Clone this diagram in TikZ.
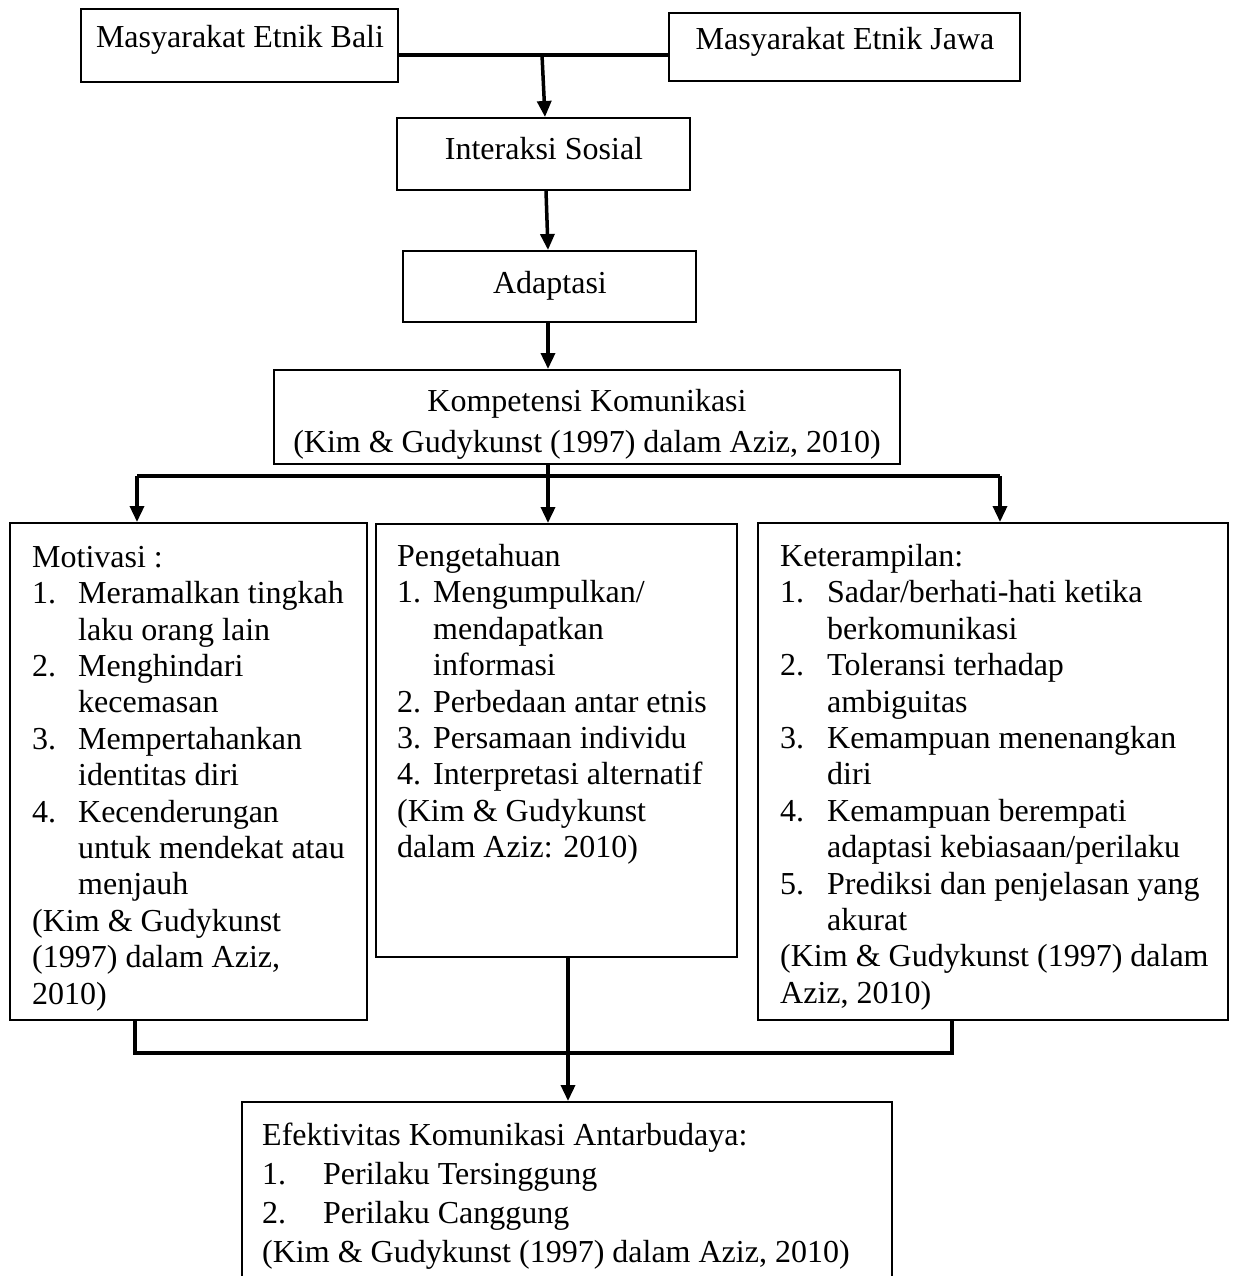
\documentclass[tikz,border=0pt]{standalone}
\usepackage{fontspec}
\setmainfont{Liberation Serif}
\usetikzlibrary{arrows.meta}
\begin{document}
\begin{tikzpicture}[x=1pt,y=-1pt,
  box/.style={draw,line width=2pt,inner sep=0pt},
  lbl/.style={inner sep=0pt,anchor=base,font=\fontsize{32}{36.4}\selectfont},
  lst/.style={inner sep=0pt,align=left,anchor=north west,font=\fontsize{32}{36.4}\selectfont},
  bus/.style={line width=4.5pt},
  arr/.style={line width=3.5pt,-{Triangle[length=16pt,width=14pt]}}]
\clip (0,0) rectangle (1235,1276);
\fill[white] (0,0) rectangle (1235,1276);
% boxes
\node[box,minimum width=317pt,minimum height=73pt] (bali) at (239.5,45.5) {};
\node[box,minimum width=351pt,minimum height=68pt] (jawa) at (844.5,47) {};
\node[box,minimum width=293pt,minimum height=72pt] (inter) at (543.5,154) {};
\node[box,minimum width=293pt,minimum height=71pt] (adapt) at (549.5,286.5) {};
\node[box,minimum width=626pt,minimum height=94pt] (komp) at (587,417) {};
\node[box,minimum width=357pt,minimum height=497pt] (left) at (188.5,771.5) {};
\node[box,minimum width=361pt,minimum height=433pt] (mid) at (556.5,740.5) {};
\node[box,minimum width=470pt,minimum height=497pt] (right) at (993,771.5) {};
\node[box,minimum width=650pt,minimum height=198pt] (bot) at (567,1201) {};
% texts
\node[lbl] (balit) at (240,48) {Masyarakat Etnik Bali};
\node[lbl] (jawat) at (845,50) {Masyarakat Etnik Jawa};
\node[lbl] (intert) at (544,160) {Interaksi Sosial};
\node[lbl] (adaptt) at (550,293) {Adaptasi};
\node[lbl] (kompt1) at (587,411) {Kompetensi Komunikasi};
\node[lbl] (kompt2) at (587,452) {(Kim \& Gudykunst (1997) dalam Aziz, 2010)};
\node[lst] (leftt) at (32,546) {Motivasi :\\
\makebox[46pt][l]{1.}Meramalkan tingkah\\
\hspace*{46pt}laku orang lain\\
\makebox[46pt][l]{2.}Menghindari\\
\hspace*{46pt}kecemasan\\
\makebox[46pt][l]{3.}Mempertahankan\\
\hspace*{46pt}identitas diri\\
\makebox[46pt][l]{4.}Kecenderungan\\
\hspace*{46pt}untuk mendekat atau\\
\hspace*{46pt}menjauh\\
(Kim \& Gudykunst\\
(1997) dalam Aziz,\\
2010)};
\node[lst] (midt) at (397,544) {Pengetahuan\\
\makebox[36pt][l]{1.}Mengumpulkan/\\
\hspace*{36pt}mendapatkan\\
\hspace*{36pt}informasi\\
\makebox[36pt][l]{2.}Perbedaan antar etnis\\
\makebox[36pt][l]{3.}Persamaan individu\\
\makebox[36pt][l]{4.}Interpretasi alternatif\\
(Kim \& Gudykunst\\
dalam Aziz: 2010)};
\node[lst] (rightt) at (780,544) {Keterampilan:\\
\makebox[47pt][l]{1.}Sadar/berhati-hati ketika\\
\hspace*{47pt}berkomunikasi\\
\makebox[47pt][l]{2.}Toleransi terhadap\\
\hspace*{47pt}ambiguitas\\
\makebox[47pt][l]{3.}Kemampuan menenangkan\\
\hspace*{47pt}diri\\
\makebox[47pt][l]{4.}Kemampuan berempati\\
\hspace*{47pt}adaptasi kebiasaan/perilaku\\
\makebox[47pt][l]{5.}Prediksi dan penjelasan yang\\
\hspace*{47pt}akurat\\
(Kim \& Gudykunst (1997) dalam\\
Aziz, 2010)};
\node[lst,font=\fontsize{32}{39}\selectfont] (bott) at (262,1123) {Efektivitas Komunikasi Antarbudaya:\\
\makebox[61pt][l]{1.}Perilaku Tersinggung\\
\makebox[61pt][l]{2.}Perilaku Canggung\\
(Kim \& Gudykunst (1997) dalam Aziz, 2010)};
% connectors
\coordinate (j1) at (542,55);
\draw[bus] (bali.east |- j1) -- (jawa.west |- j1);
\draw[arr] (j1) -- ([xshift=1.5pt]inter.north);
\draw[arr] ([xshift=2.5pt]inter.south) -- ([xshift=-1.5pt]adapt.north);
\coordinate (cx) at ([xshift=-1.5pt]adapt.south);
\draw[arr] (cx) -- (cx |- komp.north);
\coordinate (bl) at (137,476);
\coordinate (br) at (1000,476);
\draw[bus] (bl) -- (br);
\draw[arr] (cx |- komp.south) -- (cx |- mid.north);
\draw[arr] (bl) -- (bl |- left.north);
\draw[arr] (br) -- (br |- right.north);
\coordinate (lb) at (135,1053);
\coordinate (rb) at (952,1053);
\draw[bus] (lb |- left.south) -- (lb) -- (rb) -- (rb |- right.south);
\coordinate (mc) at (568,1053);
\draw[arr] (mc |- mid.south) -- (mc |- bot.north);
\end{tikzpicture}
\end{document}
